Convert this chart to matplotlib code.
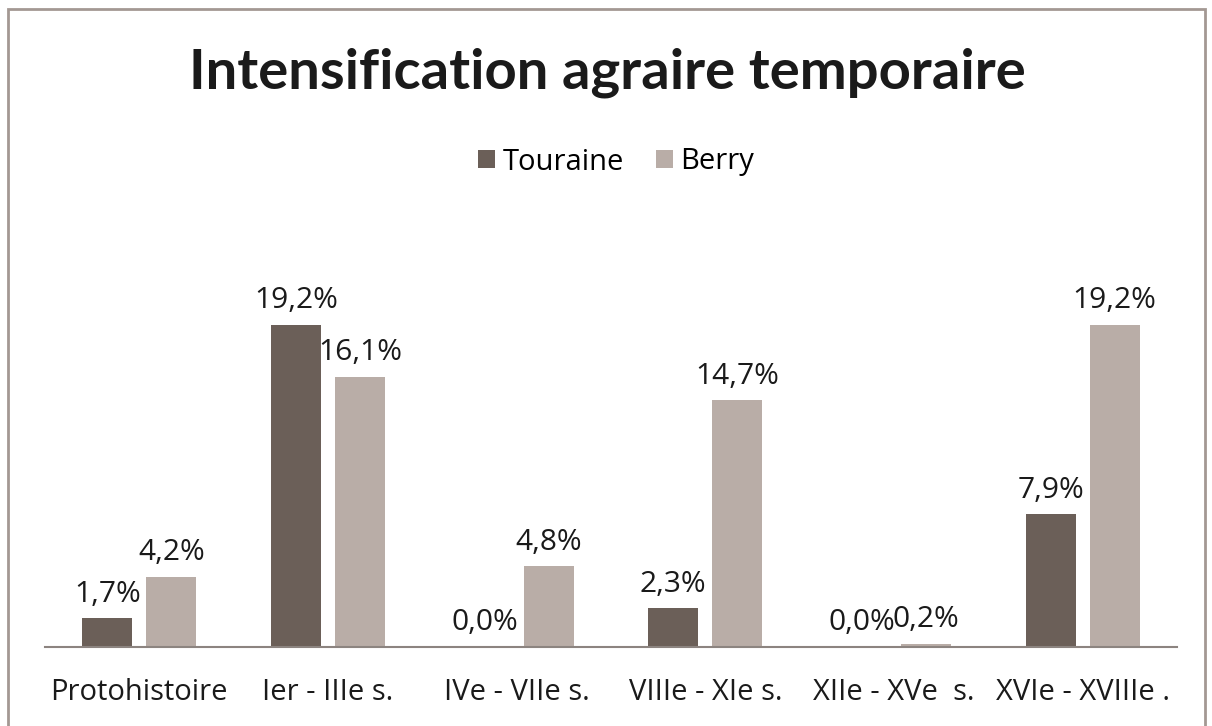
import matplotlib
matplotlib.use("Agg")
import matplotlib.pyplot as plt
import numpy as np
from matplotlib.patches import Rectangle

categories = ["Protohistoire", "Ier - IIIe s.", "IVe - VIIe s.", "VIIIe - XIe s.",
              "XIIe - XVe  s.", "XVIe - XVIIIe ."]
touraine = [1.7, 19.2, 0.0, 2.3, 0.0, 7.9]
berry = [4.2, 16.1, 4.8, 14.7, 0.2, 19.2]

DARK, LIGHT = "#6b5f58", "#b9ada7"
TXT = ["Open Sans", "DejaVu Sans"]
plt.rcParams["font.family"] = TXT

W, H = 1212, 726
fig = plt.figure(figsize=(W / 100, H / 100), dpi=100)
fig.patch.set_facecolor("white")

# outer frame of the chart area (bottom edge runs off the picture)
fig.patches.append(Rectangle((8 / W, -0.05), (1205 - 8) / W, 1.05 - 9 / H,
                             transform=fig.transFigure, fill=False,
                             edgecolor="#a39893", linewidth=2))

ax = fig.add_axes([45 / W, (H - 647) / H, (1177 - 45) / W, (647 - 250) / H])
x = np.arange(len(categories))
bw, off = 0.265, 0.17
b1 = ax.bar(x - off, touraine, bw, color=DARK, label="Touraine")
b2 = ax.bar(x + off, berry, bw, color=LIGHT, label="Berry")

for bars, vals in ((b1, touraine), (b2, berry)):
    for rect, v in zip(bars, vals):
        ax.annotate(f"{v:.1f}%".replace(".", ","),
                    (rect.get_x() + rect.get_width() / 2, rect.get_height()),
                    xytext=(0, 7), textcoords="offset points",
                    ha="center", va="bottom", fontsize=21.5, color="#1a1a1a")

ax.set_xlim(-0.5, 5.5)
ax.set_ylim(0, 23.67)
ax.set_xticks(x)
ax.set_xticklabels(categories, fontsize=21, color="#1a1a1a")
ax.tick_params(axis="x", length=0, pad=22)
ax.set_yticks([])
for s in ("top", "right", "left"):
    ax.spines[s].set_visible(False)
ax.spines["bottom"].set_color("#8c8480")
ax.spines["bottom"].set_linewidth(1.5)

fig.text(607 / W, 1 - 73 / H, "Intensification agraire temporaire",
         ha="center", va="center", fontsize=40.5, fontweight="bold", color="#1a1a1a",
         family=["Lato", "DejaVu Sans"])

fig.legend(handles=[b1, b2], loc="center", bbox_to_anchor=(616 / W, 1 - 162 / H),
           ncol=2, frameon=False, fontsize=21, handlelength=0.6, handleheight=0.6,
           handletextpad=0.25, columnspacing=1.1)

fig.savefig("out.png", dpi=100)
